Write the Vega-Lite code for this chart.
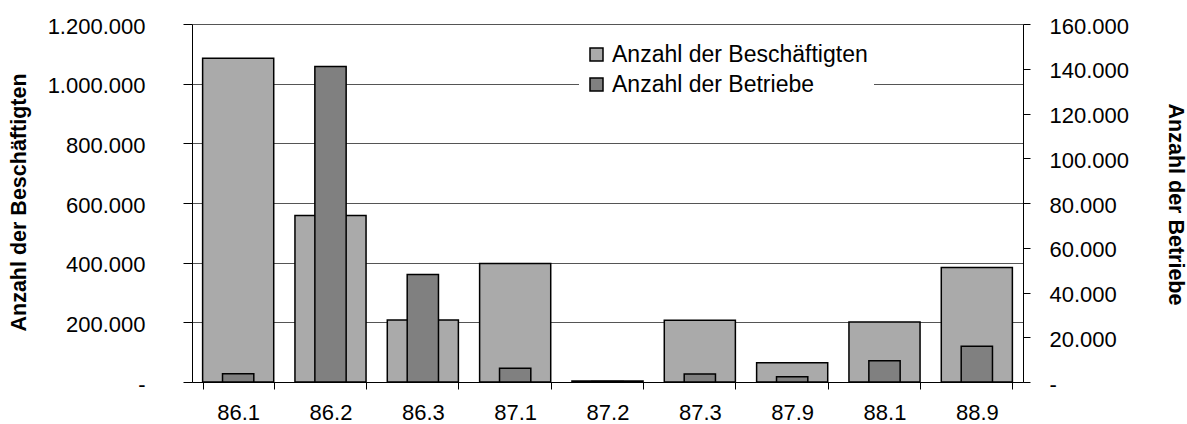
{
  "$schema": "https://vega.github.io/schema/vega-lite/v6.json",
  "width": 831,
  "height": 358,
  "autosize": "none",
  "padding": {"left": 192, "top": 24, "right": 164, "bottom": 42},
  "background": "white",
  "config": {
    "locale": {"number": {"decimal": ",", "thousands": ".", "grouping": [3], "currency": ["", " €"]}},
    "font": "Liberation Sans",
    "view": {"stroke": null},
    "axis": {
      "domainColor": "black",
      "domainWidth": 1,
      "tickColor": "black",
      "tickWidth": 1,
      "labelColor": "black",
      "labelFont": "Liberation Sans",
      "labelFontSize": 22,
      "titleColor": "black",
      "titleFont": "Liberation Sans",
      "titleFontSize": 21.5,
      "titleFontWeight": "bold"
    }
  },
  "data": {
    "values": [
      {"k": "86.1", "b": 1085000, "t": 3700},
      {"k": "86.2", "b": 558000, "t": 141000},
      {"k": "86.3", "b": 208000, "t": 48000},
      {"k": "87.1", "b": 397000, "t": 6200},
      {"k": "87.2", "b": 3000, "t": 200},
      {"k": "87.3", "b": 207000, "t": 3600},
      {"k": "87.9", "b": 64500, "t": 2400},
      {"k": "88.1", "b": 201000, "t": 9500},
      {"k": "88.9", "b": 384000, "t": 16000}
    ]
  },
  "encoding": {
    "x": {
      "field": "k",
      "type": "nominal",
      "sort": null,
      "scale": {"paddingInner": 0.23, "paddingOuter": 0.115},
      "axis": {
        "title": null,
        "labelAngle": 0,
        "tickBand": "extent",
        "tickSize": 7,
        "labelPadding": 13,
        "grid": false
      }
    }
  },
  "layer": [
    {
      "mark": {"type": "bar", "stroke": "black", "strokeWidth": 1.5},
      "encoding": {
        "y": {
          "field": "b",
          "type": "quantitative",
          "scale": {"domain": [0, 1200000], "nice": false},
          "axis": {
            "orient": "left",
            "values": [0, 200000, 400000, 600000, 800000, 1000000, 1200000],
            "format": ",d",
            "labelExpr": "datum.value === 0 ? '-\u00a0\u00a0\u00a0\u00a0' : datum.label",
            "grid": true,
            "gridColor": "#555555",
            "gridWidth": 1,
            "tickSize": 9,
            "labelPadding": 38,
            "labelOffset": 2,
            "title": "Anzahl der Beschäftigten",
            "titleAngle": -90,
            "titleAlign": "center",
            "titleBaseline": "middle",
            "titleX": -173,
            "titleY": 178
          }
        },
        "color": {
          "datum": "Anzahl der Beschäftigten",
          "type": "nominal",
          "scale": {
            "domain": ["Anzahl der Beschäftigten", "Anzahl der Betriebe"],
            "range": ["#aaaaaa", "#808080"]
          },
          "legend": {
            "title": null,
            "orient": "none",
            "legendX": 387,
            "legendY": 13,
            "padding": 6,
            "fillColor": "white",
            "symbolType": "square",
            "symbolSize": 169,
            "symbolStrokeColor": "black",
            "symbolStrokeWidth": 1.5,
            "symbolOpacity": 1,
            "labelFontSize": 23,
            "labelFont": "Liberation Sans",
            "labelColor": "black",
            "labelLimit": 0,
            "labelOffset": 4,
            "rowPadding": 6
          }
        }
      }
    },
    {
      "mark": {"type": "bar", "stroke": "black", "strokeWidth": 1.5, "width": {"band": 0.44}},
      "encoding": {
        "y": {
          "field": "t",
          "type": "quantitative",
          "scale": {"domain": [0, 160000], "nice": false},
          "axis": {
            "orient": "right",
            "values": [0, 20000, 40000, 60000, 80000, 100000, 120000, 140000, 160000],
            "format": ",d",
            "labelExpr": "datum.value === 0 ? '-' : datum.label",
            "grid": false,
            "tickSize": 7,
            "labelPadding": 19,
            "labelOffset": 2,
            "title": "Anzahl der Betriebe",
            "titleAngle": 90,
            "titleAlign": "center",
            "titleBaseline": "middle",
            "titleX": 151,
            "titleY": 180
          }
        },
        "color": {"datum": "Anzahl der Betriebe", "type": "nominal"}
      }
    }
  ],
  "resolve": {"scale": {"y": "independent"}}
}
